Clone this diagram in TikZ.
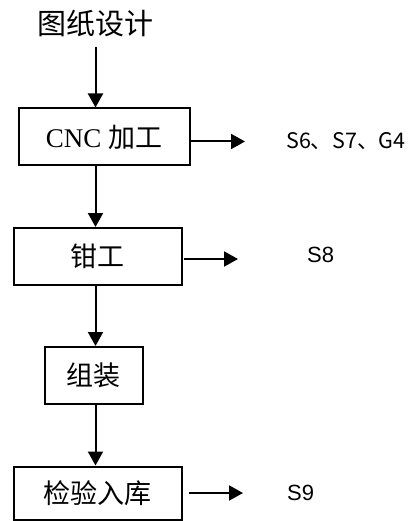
\documentclass[tikz,border=0pt]{standalone}
\usepackage{fontspec}
\setmainfont{Liberation Serif}
\setsansfont{Liberation Sans}
\newfontfamily\cjk{Noto Sans CJK SC}
\usetikzlibrary{positioning,arrows.meta}

\begin{document}
\begin{tikzpicture}[x=1pt, y=-1pt,
    >={Triangle[length=14pt, width=15pt]},
    caja/.style={draw, line width=2pt, inner sep=0pt, minimum height=57pt,
                 font=\fontsize{27}{30}\selectfont},
    etiqueta/.style={anchor=west, inner sep=0pt},
    flecha/.style={->, line width=2pt}]
  \useasboundingbox (0,0) rectangle (408,521);
  \node[font=\cjk\fontsize{29}{32}\selectfont, inner sep=0pt] (diseno) at (95.5,24) {图纸设计};
  \node[caja, minimum width=171pt] (cnc) at (104,137) {CNC {\cjk 加工}};
  \node[caja, minimum width=168pt] (banco) at (97.5,256.5) {\cjk 钳工};
  \node[caja, minimum width=98pt] (montaje) at (93.5,375.5) {\cjk 组装};
  \node[caja, minimum width=168pt, minimum height=53pt] (almacen) at (97.5,493) {\cjk 检验入库};
  \node[etiqueta, font=\cjk\fontsize{21.5}{24}\selectfont] (res1) at (286,141) {S6、S7、G4};
  \node[etiqueta, font=\sffamily\fontsize{22}{24}\selectfont] (res2) at (307,255) {S8};
  \node[etiqueta, font=\sffamily\fontsize{22}{24}\selectfont] (res3) at (287,493) {S9};
  \coordinate (fin1) at (245,141.5);
  \coordinate (fin2) at (238,259);
  \coordinate (fin3) at (243,493);
  \draw[flecha] ([yshift=-9.5pt]diseno.south) -- (diseno |- cnc.north);
  \draw[flecha] (cnc.south -| diseno) -- (banco.north -| diseno);
  \draw[flecha] (banco.south -| diseno) -- (montaje.north -| diseno);
  \draw[flecha] (montaje.south -| diseno) -- (almacen.north -| diseno);
  \draw[flecha] (cnc.east |- fin1) -- (fin1);
  \draw[flecha] ([xshift=1pt]banco.east |- fin2) -- (fin2);
  \draw[flecha] ([xshift=6pt]almacen.east |- fin3) -- (fin3);
\end{tikzpicture}
\end{document}
